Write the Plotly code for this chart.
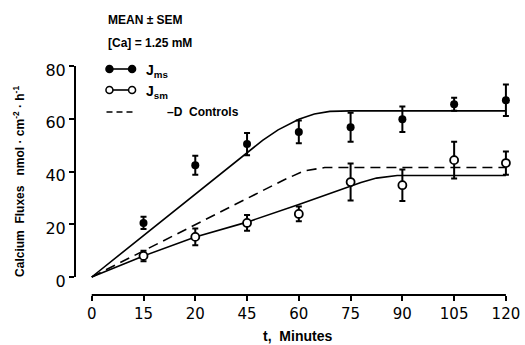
import plotly.graph_objects as go

# ---- data ----
time_labels = ["0", "15", "20", "45", "60", "75", "90", "105", "120"]
pt_pos = [1, 2, 3, 4, 5, 6, 7, 8]            # category index of each sampled time
jms = [20.5, 42.4, 50.4, 55.0, 56.8, 59.8, 65.5, 67.0]
jms_err = [2.3, 3.6, 4.2, 4.3, 5.5, 4.8, 2.5, 6.0]
jsm = [8.0, 15.2, 20.5, 23.9, 36.0, 34.8, 44.3, 43.2]
jsm_err = [2.0, 3.2, 3.0, 2.8, 7.0, 6.0, 7.0, 4.4]

ms_fit_x = [0, 3, 3.3, 3.6, 4.0, 4.3, 4.6, 5.0, 8]
ms_fit_y = [0, 47.3, 51.8, 55.8, 59.8, 61.8, 62.8, 63.0, 63.0]
sm_fit_x = [0, 1, 2, 3, 4, 4.9, 5.2, 5.5, 5.9, 8]
sm_fit_y = [0, 8.0, 15.2, 20.8, 27.5, 33.7, 35.8, 37.5, 38.5, 38.5]
ctl_fit_x = [0, 3, 3.4, 3.7, 4.1, 4.5, 8]
ctl_fit_y = [0, 30.0, 33.8, 36.7, 40.2, 41.5, 41.5]

y_ticks = [0, 20, 40, 60, 80]

# ---- layout geometry (pixels) ----
W, H = 525, 345
L, R, T, B = 75, 5, 60, 50
pw, ph = W - L - R, H - T - B


def px(x):
    return (x - L) / pw


def py(y):
    return (H - B - y) / ph


fig = go.Figure()

fig.add_trace(go.Scatter(x=ms_fit_x, y=ms_fit_y, mode="lines",
                         line=dict(color="black", width=1.6), hoverinfo="skip"))
fig.add_trace(go.Scatter(x=ctl_fit_x, y=ctl_fit_y, mode="lines",
                         line=dict(color="black", width=1.6, dash="10px,6px"), hoverinfo="skip"))
fig.add_trace(go.Scatter(x=sm_fit_x, y=sm_fit_y, mode="lines",
                         line=dict(color="black", width=1.6), hoverinfo="skip"))

fig.add_trace(go.Scatter(x=pt_pos, y=jms, mode="markers",
                         marker=dict(symbol="circle", size=8, color="black"),
                         error_y=dict(type="data", array=jms_err, color="black",
                                      thickness=2, width=3)))
fig.add_trace(go.Scatter(x=pt_pos, y=jsm, mode="markers",
                         marker=dict(symbol="circle", size=8, color="white",
                                     line=dict(color="black", width=1.8)),
                         error_y=dict(type="data", array=jsm_err, color="black",
                                      thickness=2, width=3)))

shapes = [
    # y axis line (0..80)
    dict(type="line", xref="paper", yref="y", x0=0, x1=0, y0=0, y1=80,
         line=dict(color="black", width=2)),
    # x axis line (0..120)
    dict(type="line", xref="x", yref="paper", x0=0, x1=8, y0=0, y1=0,
         line=dict(color="black", width=2)),
]

# legend keys
rows = [(69, "fill"), (90, "open"), (112, "dash")]
for yy, kind in rows:
    if kind == "dash":
        shapes.append(dict(type="line", xref="paper", yref="paper",
                           x0=px(107), x1=px(136), y0=py(yy), y1=py(yy),
                           line=dict(color="black", width=1.6, dash="6px,4px")))
        continue
    shapes.append(dict(type="line", xref="paper", yref="paper",
                       x0=px(110), x1=px(133), y0=py(yy), y1=py(yy),
                       line=dict(color="black", width=1.6)))
    for cx in (110, 133):
        shapes.append(dict(type="circle", xref="paper", yref="paper",
                           xsizemode="pixel", ysizemode="pixel",
                           xanchor=px(cx), yanchor=py(yy),
                           x0=-3.5, x1=3.5, y0=-3.5, y1=3.5,
                           fillcolor="black" if kind == "fill" else "white",
                           line=dict(color="black", width=1.5)))

bold = "Liberation Sans"
ann = [
    dict(text="<b>MEAN ± SEM</b>", x=px(106), y=py(20), xanchor="left", yanchor="middle",
         font=dict(size=12, family=bold)),
    dict(text="<b>[Ca] = 1.25 mM</b>", x=px(106), y=py(43), xanchor="left", yanchor="middle",
         font=dict(size=12, family=bold)),
    dict(text="<b>J<sub>ms</sub></b>", x=px(145), y=py(71), xanchor="left", yanchor="middle",
         font=dict(size=14, family=bold)),
    dict(text="<b>J<sub>sm</sub></b>", x=px(145), y=py(92), xanchor="left", yanchor="middle",
         font=dict(size=14, family=bold)),
    dict(text="<b>–D  Controls</b>", x=px(166), y=py(112), xanchor="left", yanchor="middle",
         font=dict(size=12, family=bold)),
    dict(text="<b>Calcium  Fluxes   nmol · cm<sup>-2</sup> · h<sup>-1</sup></b>",
         x=px(18), y=py(181), xanchor="center", yanchor="middle", textangle=-90,
         font=dict(size=12, family=bold)),
    dict(text="<b>t,  Minutes</b>", x=px(301), y=py(336), xanchor="center", yanchor="middle",
         font=dict(size=14, family=bold)),
]
for a in ann:
    a.update(xref="paper", yref="paper", showarrow=False)

x0 = -(92 - L) / 52.6
x1 = (W - R - 92) / 52.6
y_lo = (277 - (H - B)) / 2.6375
y_hi = (277 - T) / 2.6375

fig.update_layout(
    width=W, height=H, margin=dict(l=L, r=R, t=T, b=B),
    paper_bgcolor="white", plot_bgcolor="white", showlegend=False,
    font=dict(family="DejaVu Sans", color="black"),
    shapes=shapes, annotations=ann,
    xaxis=dict(range=[x0, x1], tickvals=list(range(len(time_labels))), ticktext=time_labels,
               ticks="outside", ticklen=5, tickwidth=2, tickcolor="black",
               showgrid=False, zeroline=False, showline=False, ticklabeloverflow="allow",
               tickfont=dict(size=15, family="DejaVu Sans")),
    yaxis=dict(range=[y_lo, y_hi], tickvals=y_ticks, ticks="outside", ticklen=5,
               tickwidth=2, tickcolor="black", showgrid=False, zeroline=False,
               showline=False, ticklabelshift=4, ticklabeloverflow="allow",
               tickfont=dict(size=16, family="DejaVu Sans")),
)

fig.write_html("out.html")
